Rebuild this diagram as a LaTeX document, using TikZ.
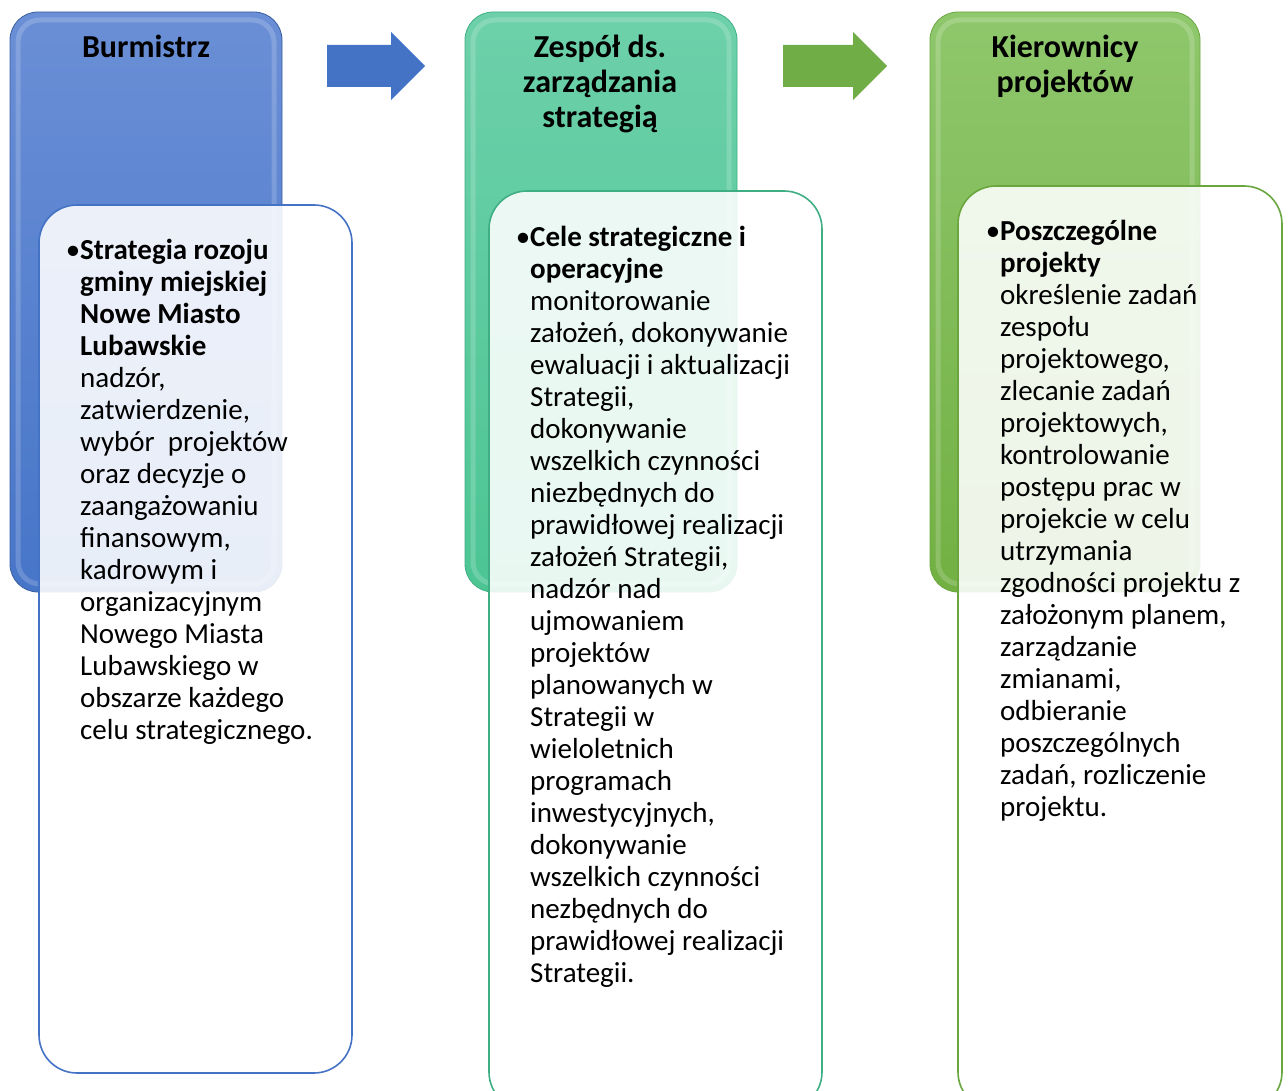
\documentclass[tikz,border=0pt]{standalone}
\usepackage{fontspec}
\setmainfont{Carlito}
\definecolor{blueA}{HTML}{6A8FD6}
\definecolor{blueB}{HTML}{4775C8}
\definecolor{blueL}{HTML}{4472C4}
\definecolor{tealA}{HTML}{6DD0AA}
\definecolor{tealB}{HTML}{4CC593}
\definecolor{tealL}{HTML}{3FAE84}
\definecolor{greenA}{HTML}{8FC76C}
\definecolor{greenB}{HTML}{72B043}
\definecolor{greenL}{HTML}{6AA63E}
\definecolor{arrowG}{HTML}{70AD47}
\begin{document}
\begin{tikzpicture}[x=1pt,y=-1pt,
  backbox/.style={rounded corners=28pt,line width=0.8pt},
  glow/.style={rounded corners=22pt,draw=white,line width=5pt,opacity=0.18},
  innerbox/.style={rounded corners=38pt,fill=white,fill opacity=0.88,line width=1.6pt},
  head/.style={font=\fontsize{32}{35}\selectfont\bfseries,align=center,anchor=north,inner sep=0pt},
  body/.style={font=\fontsize{29}{32}\selectfont,align=left,anchor=north west,inner sep=0pt},
  blockarrow/.style={draw=none}]
\useasboundingbox (0,0) rectangle (1288,1091);
\clip (0,0) rectangle (1288,1091);
% back boxes
\shade[backbox,top color=blueA,bottom color=blueB,draw=blueB!80!black] (10,12) rectangle (282,592);
\draw[glow] (18,20) rectangle (274,584);
\shade[backbox,top color=tealA,bottom color=tealB,draw=tealL] (465,12) rectangle (737,592);
\draw[glow] (473,20) rectangle (729,584);
\shade[backbox,top color=greenA,bottom color=greenB,draw=greenL] (930,12) rectangle (1200,592);
\draw[glow] (938,20) rectangle (1192,584);
% arrows
\fill[blockarrow,fill=blueL] (327,45) -- (391,45) -- (391,32) -- (425,66) -- (391,100) -- (391,87) -- (327,87) -- cycle;
\fill[blockarrow,fill=arrowG] (783,45) -- (853,45) -- (853,32) -- (887,66) -- (853,100) -- (853,87) -- (783,87) -- cycle;
% headers
\node[head] (h1) at (146,33) {\strut Burmistrz};
\node[head] (h2) at (600,33) {\strut Zespół ds.\\zarządzania\\strategią};
\node[head] (h3) at (1065,33) {\strut Kierownicy\\projektów};
% inner boxes
\draw[innerbox,draw=blueL] (39,205) rectangle (352,1073);
\draw[innerbox,draw=tealL] (489,191) rectangle (822,1110);
\draw[innerbox,draw=greenL] (958,186) rectangle (1282,1110);
% body texts
\node[body] (t1) at (80,236.6) {\strut\llap{•}\textbf{Strategia rozoju}\\\textbf{gminy miejskiej}\\\textbf{Nowe Miasto}\\\textbf{Lubawskie}\\nadzór,\\zatwierdzenie,\\wybór\ \ projektów\\oraz decyzje o\\zaangażowaniu\\finansowym,\\kadrowym i\\organizacyjnym\\Nowego Miasta\\Lubawskiego w\\obszarze każdego\\celu strategicznego.};
\node[body] (t2) at (530,223.6) {\strut\llap{•}\textbf{Cele strategiczne i}\\\textbf{operacyjne}\\monitorowanie\\założeń, dokonywanie\\ewaluacji i aktualizacji\\Strategii,\\dokonywanie\\wszelkich czynności\\niezbędnych do\\prawidłowej realizacji\\założeń Strategii,\\nadzór nad\\ujmowaniem\\projektów\\planowanych w\\Strategii w\\wieloletnich\\programach\\inwestycyjnych,\\dokonywanie\\wszelkich czynności\\nezbędnych do\\prawidłowej realizacji\\Strategii.};
\node[body] (t3) at (1000,217.6) {\strut\llap{•}\textbf{Poszczególne}\\\textbf{projekty}\\określenie zadań\\zespołu\\projektowego,\\zlecanie zadań\\projektowych,\\kontrolowanie\\postępu prac w\\projekcie w celu\\utrzymania\\zgodności projektu z\\założonym planem,\\zarządzanie\\zmianami,\\odbieranie\\poszczególnych\\zadań, rozliczenie\\projektu.};
\end{tikzpicture}
\end{document}
